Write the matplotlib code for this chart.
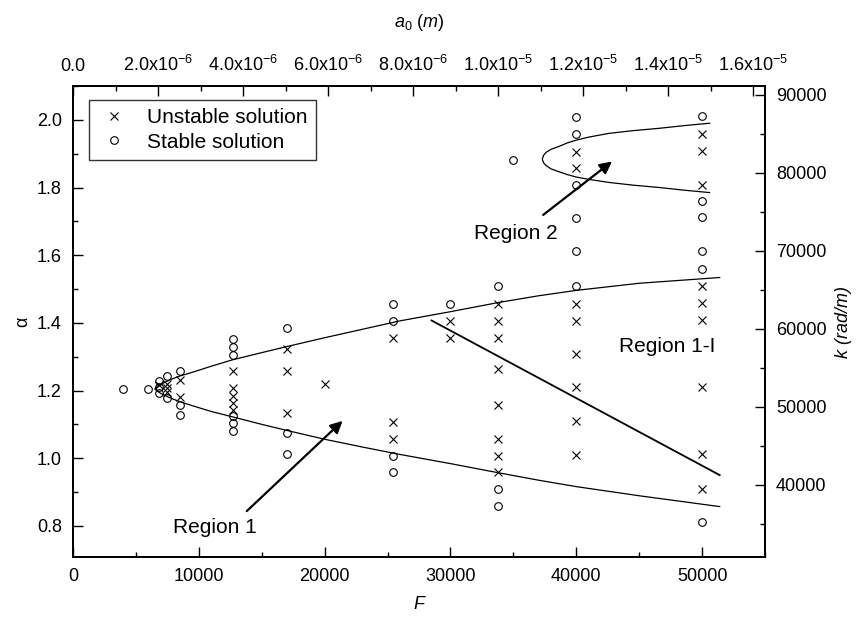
import numpy as np
import matplotlib
matplotlib.use('Agg')
import matplotlib.pyplot as plt
from matplotlib.ticker import MultipleLocator, FixedLocator

plt.rcParams['font.family'] = ['Liberation Sans', 'DejaVu Sans']
plt.rcParams['mathtext.fontset'] = 'custom'
plt.rcParams['mathtext.rm'] = 'Liberation Sans'
plt.rcParams['mathtext.it'] = 'Liberation Sans:italic'

# stable points (circles)
F_stable = [4000, 6000, 6800, 6800, 6800, 7500, 7500, 8500, 8500, 8500,
            12700, 12700, 12700, 12700, 12700, 12700,
            17000, 17000, 17000,
            25400, 25400, 25400, 25400,
            30000,
            33800, 33800, 33800,
            35000,
            40000, 40000, 40000, 40000, 40000, 40000,
            50000, 50000, 50000, 50000, 50000, 50000]
a_stable = [1.204, 1.204, 1.229, 1.209, 1.193, 1.242, 1.178, 1.259, 1.156, 1.128,
            1.352, 1.330, 1.306, 1.124, 1.104, 1.081,
            1.386, 1.074, 1.012,
            1.456, 1.406, 1.007, 0.958,
            1.456,
            1.508, 0.909, 0.858,
            1.882,
            2.008, 1.959, 1.808, 1.710, 1.611, 1.508,
            2.010, 1.759, 1.713, 1.611, 1.560, 0.810]

# unstable points (crosses)
F_unstable = [6800, 7500, 7500, 7500, 8500, 8500,
              12700, 12700, 12700, 12700, 12700,
              17000, 17000, 17000,
              20000,
              25400, 25400, 25400,
              30000, 30000,
              33800, 33800, 33800, 33800, 33800, 33800, 33800, 33800,
              40000, 40000, 40000, 40000, 40000, 40000, 40000, 40000,
              50000, 50000, 50000, 50000, 50000, 50000, 50000, 50000, 50000]
a_unstable = [1.215, 1.220, 1.207, 1.195, 1.230, 1.181,
              1.259, 1.207, 1.183, 1.162, 1.141,
              1.322, 1.259, 1.135,
              1.220,
              1.355, 1.107, 1.057,
              1.406, 1.355,
              1.456, 1.406, 1.355, 1.263, 1.158, 1.057, 1.007, 0.958,
              1.906, 1.857, 1.456, 1.406, 1.308, 1.209, 1.109, 1.010,
              1.959, 1.909, 1.808, 1.510, 1.458, 1.407, 1.210, 1.012, 0.910]

# region 1 boundary (upper / lower branch)
F_r1 = [6500, 6700, 7000, 7500, 8000, 8500, 9500, 11000, 12700, 15000, 17000, 20000,
        23000, 26000, 30000, 33800, 37000, 40000, 45000, 51400]
a_r1_up = [1.205, 1.212, 1.219, 1.228, 1.236, 1.243, 1.254, 1.272, 1.291, 1.312, 1.330, 1.356,
           1.381, 1.406, 1.433, 1.460, 1.480, 1.496, 1.517, 1.534]
a_r1_lo = [1.205, 1.198, 1.191, 1.182, 1.174, 1.167, 1.155, 1.138, 1.122, 1.100, 1.082, 1.056,
           1.033, 1.011, 0.984, 0.957, 0.935, 0.916, 0.889, 0.857]

# region 2 boundary
F_r2 = [37300, 37400, 37600, 38000, 38600, 39300, 40000, 41000, 42600, 44500, 46600, 48600, 50600]
a_r2_up = [1.884, 1.895, 1.904, 1.913, 1.921, 1.932, 1.940, 1.949, 1.960, 1.968, 1.975, 1.983, 1.990]
a_r2_lo = [1.884, 1.873, 1.865, 1.855, 1.847, 1.838, 1.831, 1.824, 1.815, 1.807, 1.800, 1.792, 1.785]

# region 1-I line
F_r1i = [28500, 51400]
a_r1i = [1.407, 0.950]

K_PER_ALPHA = 43400.0
A0_PER_F = 2.96e-10
FS = 13

fig = plt.figure(figsize=(8.59, 6.18), dpi=100)
ax = fig.add_axes([73 / 859, 1 - 557 / 618, 692 / 859, 471 / 618])

ax.plot(np.concatenate([F_r1[::-1], F_r1]), np.concatenate([a_r1_up[::-1], a_r1_lo]),
        color='black', lw=0.9)
ax.plot(np.concatenate([F_r2[::-1], F_r2]), np.concatenate([a_r2_up[::-1], a_r2_lo]),
        color='black', lw=0.9)
ax.plot(F_r1i, a_r1i, color='black', lw=1.3)

ax.plot(F_unstable, a_unstable, 'x', color='black', ms=5.5, mew=0.8,
        label='Unstable solution', ls='none')
ax.plot(F_stable, a_stable, 'o', mfc='none', mec='black', ms=5.5, mew=0.8,
        label='Stable solution', ls='none')

ax.set_xlim(0, 55000)
ax.set_ylim(0.708, 2.1)
ax.xaxis.set_major_locator(MultipleLocator(10000))
ax.xaxis.set_minor_locator(MultipleLocator(5000))
ax.yaxis.set_major_locator(MultipleLocator(0.2))
ax.yaxis.set_minor_locator(MultipleLocator(0.1))
ax.yaxis.set_major_formatter(plt.FormatStrFormatter('%.1f'))
ax.set_xlabel('F', style='italic', fontsize=FS, labelpad=8)
ax.set_ylabel('\u03b1', fontsize=FS, labelpad=4)

# top axis: a0
ax_t = ax.twiny()
ax_t.set_xlim(0, 55000 * A0_PER_F)
top_ticks = [0, 2e-6, 4e-6, 6e-6, 8e-6, 1e-5, 1.2e-5, 1.4e-5, 1.6e-5]
top_labels = ['0.0', r'2.0x10$^{-6}$', r'4.0x10$^{-6}$', r'6.0x10$^{-6}$', r'8.0x10$^{-6}$',
              r'1.0x10$^{-5}$', r'1.2x10$^{-5}$', r'1.4x10$^{-5}$', r'1.6x10$^{-5}$']
ax_t.xaxis.set_major_locator(FixedLocator(top_ticks))
ax_t.set_xticklabels(top_labels)
ax_t.xaxis.set_minor_locator(MultipleLocator(1e-6))
ax_t.set_xlabel(r'$a_0$ ($m$)', fontsize=FS, labelpad=20)

# right axis: k
ax_r = ax.twinx()
ax_r.set_ylim(0.708 * K_PER_ALPHA, 2.1 * K_PER_ALPHA)
ax_r.yaxis.set_major_locator(MultipleLocator(10000))
ax_r.yaxis.set_minor_locator(MultipleLocator(5000))
ax_r.set_ylabel('k (rad/m)', style='italic', fontsize=FS, labelpad=6)

for a in (ax, ax_t, ax_r):
    a.tick_params(which='both', direction='in', labelsize=FS, width=1.0, pad=8)
    a.tick_params(which='major', length=7)
    a.tick_params(which='minor', length=3.5)
    for s in a.spines.values():
        s.set_linewidth(1.3)

ax.annotate('', xy=(43016, 1.882), xytext=(37198, 1.714),
            arrowprops=dict(arrowstyle='-|>', color='black', lw=1.6, mutation_scale=18))
ax.text(35214, 1.665, 'Region 2', fontsize=15, ha='center', va='center')
ax.annotate('', xy=(21587, 1.116), xytext=(13650, 0.838),
            arrowprops=dict(arrowstyle='-|>', color='black', lw=1.6, mutation_scale=18))
ax.text(11270, 0.794, 'Region 1', fontsize=15, ha='center', va='center')
ax.text(47250, 1.33, 'Region 1-I', fontsize=15, ha='center', va='center')

leg = ax.legend(loc='upper left', bbox_to_anchor=(0.023, 0.970), borderaxespad=0,
                fontsize=15, frameon=True, fancybox=False, handlelength=1.6,
                handletextpad=0.8, borderpad=0.4, labelspacing=0.25)
leg.get_frame().set_edgecolor('black')
leg.get_frame().set_linewidth(1.0)

fig.savefig('out.png', dpi=100)
